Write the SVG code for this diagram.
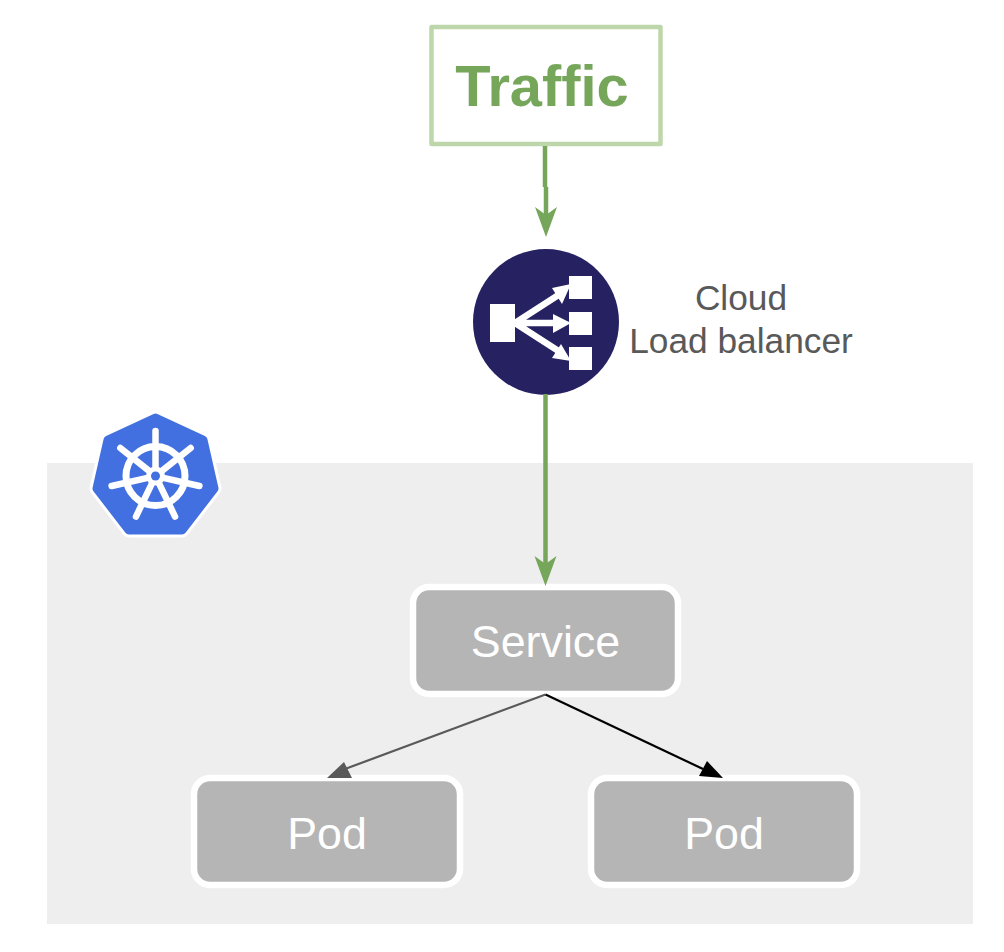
<svg xmlns="http://www.w3.org/2000/svg" width="1004" height="952" viewBox="0 0 1004 952">
<style>
text{font-family:"Liberation Sans",Arial,sans-serif;text-anchor:middle}
.box{fill:#b5b5b5;stroke:#fff;stroke-width:6.5}
.lbl{fill:#fff;font-size:44.800px}
.cap{fill:#595959;font-size:35.300px}
.g{fill:none;stroke:#75a65a;stroke-width:4.500}
.ah{fill:#75a65a}
.w{fill:#fff}
</style>
<rect width="1004" height="952" fill="#fff"/>
<rect id="cluster" x="47" y="463" width="926" height="461" fill="#eeeeee"/>
<g id="traffic">
<rect x="431.500" y="27" width="229" height="117" fill="#fff" stroke="#bdd7ab" stroke-width="4.500" stroke-linejoin="round"/>
<text x="542" y="106" font-size="57.800" font-weight="bold" fill="#75a65a">Traffic</text>
</g>
<g id="loadbalancer">
<circle cx="546" cy="322" r="73" fill="#262261"/>
<rect class="w" x="490" y="304" width="25" height="38"/>
<rect class="w" x="569" y="276" width="23" height="23"/>
<rect class="w" x="569" y="312" width="23" height="23"/>
<rect class="w" x="569" y="347" width="23" height="23"/>
<path d="M515 323L560 294M515 323H560M515 323L560 352" fill="none" stroke="#fff" stroke-width="6.500"/>
<path class="w" d="M571 284L552 288L562 304Z"/>
<path class="w" d="M571 323L553 314V333Z"/>
<path class="w" d="M571 361L552 358L561 344Z"/>
</g>
<g id="cloud-label">
<text class="cap" x="741" y="310">Cloud</text>
<text class="cap" x="741" y="353">Load balancer</text>
</g>
<g id="kubernetes">
<path d="M155.500 418L203 440L214 488.500L182 530H129L97 488.500L108 440Z" fill="#fff" stroke="#fff" stroke-width="15" stroke-linejoin="round"/>
<path d="M155.500 418L203 440L214 488.500L182 530H129L97 488.500L108 440Z" fill="#4370e0" stroke="#4370e0" stroke-width="9" stroke-linejoin="round"/>
<g fill="none" stroke="#fff" stroke-linecap="round">
<circle cx="155.500" cy="476" r="29.500" stroke-width="7"/>
<g stroke-width="6.500">
<path d="M155.500 431V469"/>
<path d="M155.500 431V469" transform="rotate(51.430 155.500 476)"/>
<path d="M155.500 431V469" transform="rotate(102.860 155.500 476)"/>
<path d="M155.500 431V469" transform="rotate(154.290 155.500 476)"/>
<path d="M155.500 431V469" transform="rotate(205.710 155.500 476)"/>
<path d="M155.500 431V469" transform="rotate(257.140 155.500 476)"/>
<path d="M155.500 431V469" transform="rotate(308.570 155.500 476)"/>
</g>
</g>
<circle cx="155.500" cy="476" r="9.500" fill="#fff"/>
<circle cx="155.500" cy="476" r="4.500" fill="#4370e0"/>
</g>
<g id="service">
<rect class="box" x="413" y="587" width="265" height="107" rx="16"/>
<text class="lbl" x="545.500" y="657">Service</text>
</g>
<g id="pod1">
<rect class="box" x="194" y="778" width="266" height="107" rx="16"/>
<text class="lbl" x="327" y="849">Pod</text>
</g>
<g id="pod2">
<rect class="box" x="591" y="778" width="266" height="107" rx="16"/>
<text class="lbl" x="724" y="849">Pod</text>
</g>
<g id="connectors">
<path class="g" d="M545 146V187M546 187V215"/>
<path class="ah" d="M546 237L535 207L546 215L557 207Z"/>
<path class="g" d="M545.500 394V564"/>
<path class="ah" d="M545.500 586L534.500 556L545.500 564L556.500 556Z"/>
<path d="M545.500 694.500L345 769" fill="none" stroke="#595959" stroke-width="2.200"/>
<path d="M344 762L327 778L352 778Z" fill="#595959"/>
<path d="M545.500 694.500L703 769" fill="none" stroke="#000" stroke-width="2.200"/>
<path d="M707 761L723 778L699 776Z" fill="#000"/>
</g>
</svg>
